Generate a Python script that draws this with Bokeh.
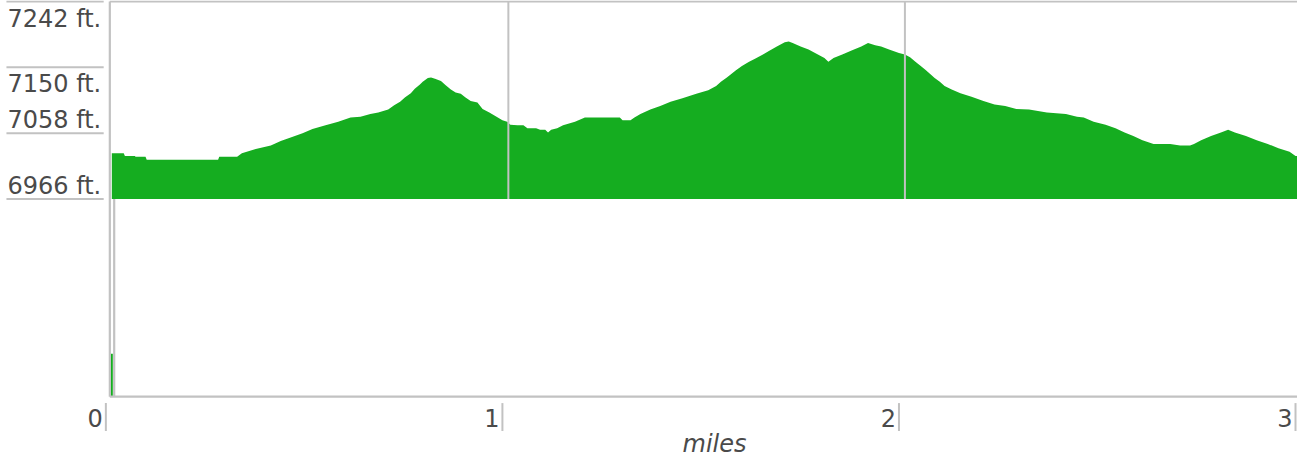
from bokeh.plotting import figure
from bokeh.models import Range1d
from bokeh.core.properties import value
from bokeh.embed import file_html
from bokeh.resources import INLINE

# ---- data ----
miles = [0.000, 0.030, 0.033, 0.058, 0.060, 0.085, 0.088, 0.268, 0.271, 0.316, 0.328, 0.363, 0.401,
         0.426, 0.451, 0.481, 0.506, 0.539, 0.571, 0.602, 0.627, 0.652, 0.672, 0.697, 0.712, 0.727,
         0.739, 0.754, 0.764, 0.777, 0.784, 0.797, 0.805, 0.815, 0.830, 0.842, 0.855, 0.867, 0.880,
         0.892, 0.905, 0.922, 0.935, 0.952, 0.967, 0.985, 0.997, 1.005, 1.023, 1.038, 1.048, 1.070,
         1.080, 1.093, 1.100, 1.108, 1.123, 1.138, 1.168, 1.193, 1.281, 1.288, 1.308, 1.318, 1.333,
         1.358, 1.383, 1.409, 1.439, 1.474, 1.504, 1.524, 1.536, 1.551, 1.574, 1.589, 1.607, 1.622,
         1.642, 1.657, 1.677, 1.697, 1.707, 1.717, 1.737, 1.757, 1.777, 1.797, 1.807, 1.820, 1.842,
         1.867, 1.890, 1.907, 1.925, 1.940, 1.960, 1.985, 2.000, 2.013, 2.028, 2.040, 2.053, 2.063,
         2.075, 2.088, 2.100, 2.118, 2.140, 2.168, 2.198, 2.226, 2.253, 2.281, 2.313, 2.358, 2.406,
         2.434, 2.451, 2.476, 2.506, 2.531, 2.554, 2.576, 2.599, 2.627, 2.669, 2.694, 2.719, 2.729,
         2.747, 2.772, 2.797, 2.815, 2.832, 2.860, 2.887, 2.915, 2.942, 2.970, 2.985, 2.990]
elevation_ft = [7030, 7030, 7026, 7026, 7025, 7025, 7021, 7021, 7025, 7025, 7030, 7036, 7041,
                7047, 7052, 7058, 7064, 7069, 7074, 7080, 7081, 7085, 7087, 7091, 7097, 7102,
                7108, 7114, 7120, 7126, 7130, 7135, 7136, 7134, 7131, 7125, 7119, 7115, 7113,
                7108, 7103, 7101, 7092, 7087, 7082, 7076, 7074, 7070, 7069, 7069, 7065, 7065,
                7063, 7063, 7059, 7063, 7065, 7069, 7074, 7080, 7080, 7076, 7076, 7080, 7085,
                7091, 7096, 7102, 7107, 7113, 7118, 7124, 7130, 7136, 7146, 7152, 7158, 7162,
                7168, 7173, 7179, 7185, 7186, 7184, 7179, 7175, 7169, 7163, 7158, 7163, 7168,
                7174, 7179, 7184, 7181, 7179, 7175, 7170, 7168, 7164, 7157, 7152, 7146, 7141,
                7135, 7130, 7124, 7119, 7114, 7109, 7103, 7098, 7096, 7092, 7091, 7087, 7085,
                7081, 7080, 7074, 7070, 7065, 7059, 7054, 7048, 7043, 7043, 7041, 7041, 7043,
                7048, 7054, 7059, 7063, 7059, 7054, 7048, 7043, 7037, 7032, 7026, 7026]

y_ticks = [6966, 7058, 7150, 7242]
y_tick_labels = ["6966 ft.", "7058 ft.", "7150 ft.", "7242 ft."]
x_ticks = [0, 1, 2, 3]
x_tick_labels = ["0", "1", "2", "3"]
x_axis_title = "miles"
lower_bar_miles = [0.0]
lower_bar_values = [60]

# ---- layout / style constants ----
GREEN = "#15ad20"
GRAY = "#c2c2c2"
TEXT = "#4a4a4a"
FONT = "DejaVu Sans"

base = y_ticks[0]
top = y_ticks[-1]
span = top - base
lower_base = base - span          # bottom of the lower panel
x_end = 2.99
frame_left = -0.005
bottom_axis_shift = -0.015

p = figure(width=1297, height=461, output_backend="svg", toolbar_location=None,
           x_range=Range1d(-0.2807, 2.990), y_range=Range1d(6599.4, 7243.4),
           x_axis_location=None, y_axis_location=None, min_border=0,
           background_fill_color="white", border_fill_color="white")
p.outline_line_color = None
p.xgrid.visible = False
p.ygrid.visible = False

# elevation profile
p.varea(x=miles, y1=base, y2=elevation_ft, fill_color=GREEN)

# small bar in the lower panel
p.quad(left=[m - 0.0025 for m in lower_bar_miles], right=[m + 0.0025 for m in lower_bar_miles],
       bottom=lower_base, top=[lower_base + v for v in lower_bar_values],
       fill_color=GREEN, line_color=None)

# frame lines
p.segment(x0=[frame_left, frame_left, frame_left, 0.006],
          y0=[top, top, lower_base, base],
          x1=[x_end, frame_left, x_end, 0.006],
          y1=[top, lower_base, lower_base, lower_base],
          line_color=GRAY, line_width=2.2)
# vertical grid in the upper panel
grid_x = [t for t in x_ticks if 0 < t < x_end]
p.segment(x0=grid_x, y0=base, x1=grid_x, y1=top, line_color=GRAY, line_width=2)

# y tick lines and labels
p.segment(x0=-0.2657, y0=y_ticks, x1=-0.0205, y1=y_ticks, line_color=GRAY, line_width=2)
for t, lab in zip(y_ticks, y_tick_labels):
    below = t > (base + top) / 2
    p.text(x=[-0.2632], y=[t], text=[lab], text_font=value(FONT), text_font_size="24px",
           text_color=TEXT, text_align="left", text_baseline="middle",
           y_offset=17 if below else -13)

# bottom axis: tick bars with labels to their left
bx = [t + bottom_axis_shift for t in x_ticks]
p.segment(x0=bx, y0=6681, x1=bx, y1=6642, line_color=GRAY, line_width=2)
p.text(x=bx, y=[6660] * len(bx), text=x_tick_labels, text_font=value(FONT),
       text_font_size="24px", text_color=TEXT, text_align="right", text_baseline="middle",
       x_offset=-3)
p.text(x=[1.52], y=[6624], text=[x_axis_title], text_font=value(FONT), text_font_size="24px",
       text_font_style="italic", text_color=TEXT, text_align="center", text_baseline="middle")

open("out.html", "w").write(file_html(p, INLINE))
